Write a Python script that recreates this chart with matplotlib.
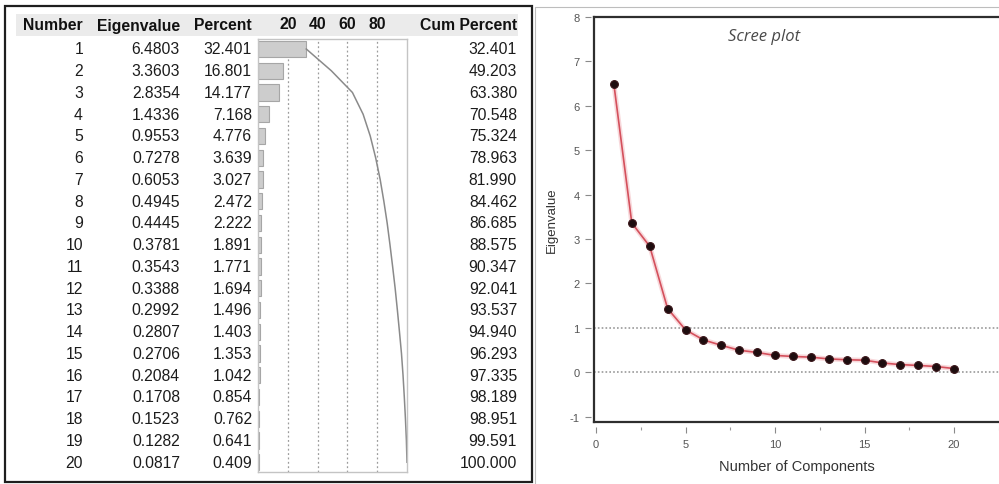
import matplotlib
matplotlib.use("Agg")
import matplotlib.pyplot as plt
from matplotlib.patches import Rectangle
from matplotlib.lines import Line2D

plt.rcParams["axes.unicode_minus"] = False

# ---------------- data ----------------
numbers = list(range(1, 21))
eigenvalues = [6.4803, 3.3603, 2.8354, 1.4336, 0.9553, 0.7278, 0.6053, 0.4945,
               0.4445, 0.3781, 0.3543, 0.3388, 0.2992, 0.2807, 0.2706, 0.2084,
               0.1708, 0.1523, 0.1282, 0.0817]
percents = [32.401, 16.801, 14.177, 7.168, 4.776, 3.639, 3.027, 2.472, 2.222,
            1.891, 1.771, 1.694, 1.496, 1.403, 1.353, 1.042, 0.854, 0.762,
            0.641, 0.409]
cum_percents = [32.401, 49.203, 63.380, 70.548, 75.324, 78.963, 81.990, 84.462,
                86.685, 88.575, 90.347, 92.041, 93.537, 94.940, 96.293, 97.335,
                98.189, 98.951, 99.591, 100.000]
headers = ["Number", "Eigenvalue", "Percent", "Cum Percent"]
bar_ticks = [20, 40, 60, 80]
scree_xticks = [0, 5, 10, 15, 20]
scree_xminor = [2.5, 7.5, 12.5, 17.5, 22.5]
scree_yticks = [-1, 0, 1, 2, 3, 4, 5, 6, 7, 8]
ref_lines = [1, 0]

# ---------------- layout helpers ----------------
W, H = 999, 485
fig = plt.figure(figsize=(W / 100, H / 100), dpi=100)
fig.patch.set_facecolor("white")


def rect(l, t, r, b):
    return [l / W, 1 - b / H, (r - l) / W, (b - t) / H]


FONT = ["Liberation Sans", "DejaVu Sans"]
Y1, DY = 50.0, 21.75  # pixel y of row 1 and row pitch
TS = 11.3

# ---------------- left panel: table ----------------
axT = fig.add_axes([0, 0, 1, 1])
axT.set_xlim(0, W)
axT.set_ylim(H, 0)
axT.axis("off")

# panel border
axT.add_patch(Rectangle((5, 7), 527, 476, fill=False, edgecolor="#1e1e1e", lw=1.6, zorder=5))
# right panel outer frame
axT.add_line(Line2D([535, 535, 999], [485, 8, 8], color="#bdbdbd", lw=0.8))
# header band
axT.add_patch(Rectangle((16, 15), 502, 22, facecolor="#ebebeb", edgecolor="none", zorder=0))

col_right = [83, 180, 252, 517]
header_y = 26
for hdr, cx in zip(headers, col_right):
    axT.text(cx, header_y, hdr, ha="right", va="center", fontsize=TS,
             fontweight="bold", family=FONT, color="#111111")

for i, (n, ev, p, c) in enumerate(zip(numbers, eigenvalues, percents, cum_percents)):
    y = Y1 + i * DY
    vals = [f"{n}", f"{ev:.4f}", f"{p:.3f}", f"{c:.3f}"]
    for v, cx in zip(vals, col_right):
        axT.text(cx, y, v, ha="right", va="center", fontsize=TS,
                 family=FONT, color="#1c1c1c")

# bar-chart column
axB = fig.add_axes(rect(258, 40, 407, 473))
axB.set_xlim(0, 100)
r_top = 1 + (40 - Y1) / DY
r_bot = 1 + (473 - Y1) / DY
axB.set_ylim(r_bot, r_top)
axB.set_facecolor("white")
for s in axB.spines.values():
    s.set_color("#c4c4c4")
    s.set_linewidth(1.0)
axB.set_axisbelow(True)
axB.xaxis.grid(True, linestyle=(0, (1.5, 2.0)), color="#9c9c9c", lw=0.9)
axB.set_xticks(bar_ticks)
axB.set_yticks([])
axB.xaxis.tick_top()
axB.tick_params(axis="x", length=0, pad=6, labelsize=TS, labelcolor="#111111")
for lab in axB.get_xticklabels():
    lab.set_fontweight("bold")
    lab.set_family(FONT)
axB.barh(numbers, percents, height=0.74, color="#cdcdcd", edgecolor="#a6a6a6", lw=0.8)
axB.plot(cum_percents, numbers, color="#8a8a8a", lw=1.1)

# ---------------- right panel: scree plot ----------------
pos = rect(594, 18, 999, 423)
axS = fig.add_axes(pos)
axS.set_facecolor("none")
x0 = -2 / 17.9
axS.set_xlim(x0, x0 + 405 / 17.9)
axS.set_ylim(8 - 405 / 44.4, 8.0)
for side in ["right", "top"]:
    axS.spines[side].set_visible(False)
axS.spines["left"].set_position(("outward", 2.5))
axS.spines["bottom"].set_position(("outward", 3.5))
axS.spines["left"].set_visible(False)
axS.spines["bottom"].set_visible(False)
axS.set_xticks(scree_xticks)
axS.set_xticks(scree_xminor, minor=True)
axS.set_yticks(scree_yticks)
axS.tick_params(axis="both", which="major", direction="out", length=4, width=0.8,
                color="#8a8a8a", labelsize=8, labelcolor="#555555", pad=4)
axS.tick_params(axis="x", which="minor", direction="out", length=2.5, width=0.8,
                color="#9a9a9a")
axS.tick_params(axis="x", which="major", pad=5)
for lab in axS.get_xticklabels() + axS.get_yticklabels():
    lab.set_family(FONT)

for yv in ref_lines:
    axS.axhline(yv, color="#9a9a9a", lw=1.2, ls=(0, (1.0, 1.3)), zorder=1)

axS.plot(numbers, eigenvalues, color="#f2b9be", lw=3.5, alpha=0.55, zorder=2)
axS.plot(numbers, eigenvalues, color="#d4505c", lw=1.2, zorder=3)
axS.plot(numbers, eigenvalues, ls="none", marker="o", ms=5.6, mfc="#1e0d0f",
         mec="#3a1519", mew=0.8, zorder=4)

axS.set_xlabel("Number of Components", fontsize=10.5, family=FONT, color="#333333")
axS.xaxis.set_label_coords(0.5, -0.091)
axS.set_ylabel("Eigenvalue", fontsize=9.5, family=FONT, color="#333333")
axS.yaxis.set_label_coords(-0.088, 0.5)

# frame overlay
axF = fig.add_axes(pos)
axF.set_facecolor("none")
axF.set_xticks([])
axF.set_yticks([])
axF.spines["right"].set_visible(False)
for side in ["left", "top", "bottom"]:
    axF.spines[side].set_color("#2e2e2e")
    axF.spines[side].set_linewidth(1.6)

fig.text(764 / W, 1 - 37 / H, "Scree plot", ha="center", va="center", fontsize=12,
         style="italic", family=["Open Sans", "DejaVu Sans"], color="#4a4a4a")

fig.savefig("out.png", dpi=100, facecolor="white")
